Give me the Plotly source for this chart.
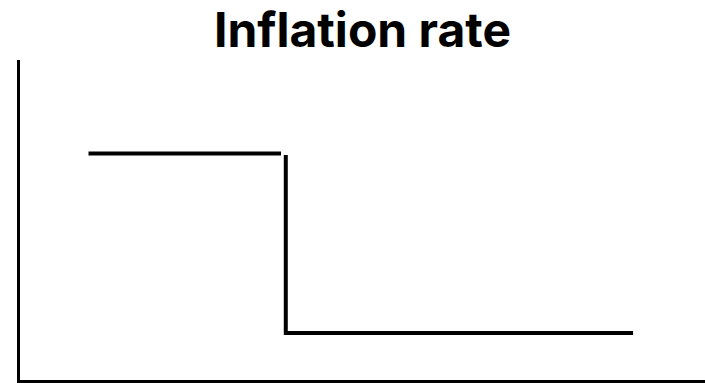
import plotly.graph_objs as go

# before: the high, flat rate
before_x = [1.0, 3.81]
before_y = [7.08, 7.08]

# after: the drop and the new, lower rate
after_x = [3.88, 3.88, 8.95]
after_y = [7.03, 1.47, 1.47]

x_range = [0, 10]
y_range = [0, 10]

W, H = 705, 383


def get_step_trace(x, y, name):
  return go.Scatter(
    x=x,
    y=y,
    mode='lines',
    line=dict(color='black', width=4),
    name=name,
    hoverinfo='skip'
  )


data = [
  get_step_trace(before_x, before_y, 'before'),
  get_step_trace(after_x, after_y, 'after'),
]

axis_style = dict(
  showline=True,
  linecolor='black',
  linewidth=3,
  showgrid=False,
  zeroline=False,
  showticklabels=False,
  ticks='',
  fixedrange=True
)

layout = go.Layout(
  width=W,
  height=H,
  showlegend=False,
  plot_bgcolor='white',
  paper_bgcolor='white',
  margin=dict(l=20, r=0, t=60, b=3),
  title=dict(
    text='<b>Inflation rate</b>',
    x=0.5,
    xref='paper',
    xanchor='center',
    y=1 - 30 / H,
    yref='container',
    yanchor='middle',
    font=dict(family='Inter, Liberation Sans, Arial, sans-serif', size=48, color='black')
  ),
  xaxis=dict(range=x_range, **axis_style),
  yaxis=dict(range=y_range, **axis_style)
)

fig = go.Figure(data=data, layout=layout)
# drop the browser's default body margin so the figure fills the window
fig.write_html('out.html', config={'displayModeBar': False},
               post_script="document.body.style.margin = '0';")
